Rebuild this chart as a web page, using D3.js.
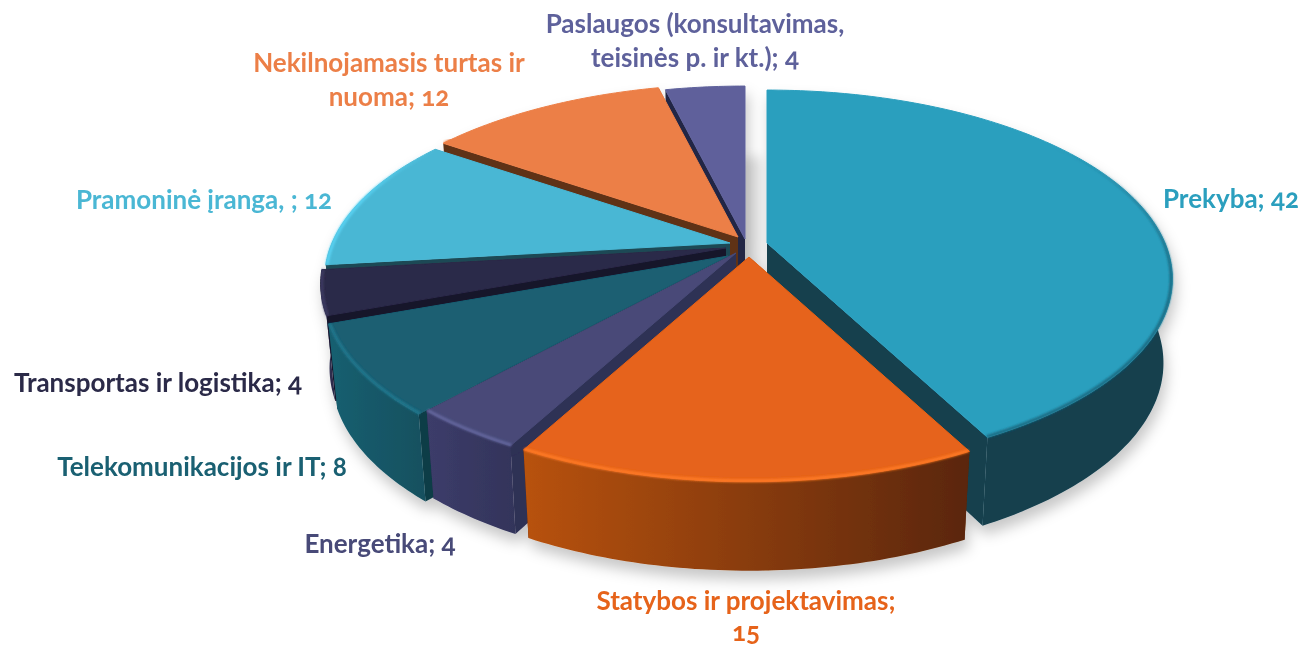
<!DOCTYPE html>
<html lang="lt">
<head>
  <meta charset="UTF-8" />
  <title>Sektoriai</title>
  <style>
    body { margin: 0; background: #fff; overflow: hidden; }
    svg { display: block; }
    .label {
      font-family: Lato, "Open Sans", sans-serif;
      font-weight: 700;
      font-size: 26px;
      font-variant-numeric: oldstyle-nums;
      text-anchor: middle;
    }
  </style>
  <script src="https://cdn.jsdelivr.net/npm/d3@7"></script>
</head>
<body>
  <svg id="chart" width="1301" height="648"></svg>

  <script>
    // shares in %, the printed labels are these rounded
    const categories = ['Prekyba', 'Statybos ir projektavimas', 'Energetika', 'Telekomunikacijos ir IT',
      'Transportas ir logistika', 'Pramoninė įranga', 'Nekilnojamasis turtas ir nuoma', 'Paslaugos'];
    const values = [42.3, 15.4, 3.8, 7.7, 3.8, 11.5, 11.5, 3.8];
    const labels = ['Prekyba; 42', 'Statybos ir projektavimas;\n15', 'Energetika; 4', 'Telekomunikacijos ir IT; 8',
      'Transportas ir logistika; 4', 'Pramoninė įranga, ; 12', 'Nekilnojamasis turtas ir\nnuoma; 12',
      'Paslaugos (konsultavimas,\nteisinės p. ir kt.); 4'];

    // styling per slice
    const topColors  = ['#2b9fbe', '#e6631a', '#484a78', '#1a5e72', '#2b2a48', '#4ab7d4', '#ec7f47', '#5e619b'];
    const textColors = ['#2b9fbe', '#e6631a', '#484a78', '#1a6072', '#2b2a48', '#4ab7d4', '#ec7f47', '#5e619b'];
    const rimColors  = ['#1b6a82', '#ff7a26', '#64669e', '#22788e', '#3c3b62', '#58d2f2', '#ec7f47', '#5e619b'];
    const faceColors = ['#133f4e', '#5a2608', '#2f3055', '#0e3c47', '#14122a', '#1f4a54', '#5f3118', '#242645'];
    const wallFrom   = ['#133f4e', '#b8520f', '#3c3c6a', '#185f70', '#33335a', '#1f4a54', '#5f3118', '#242645'];
    const wallTo     = ['#133f4e', '#5a2608', '#33345a', '#14505f', '#2b2a48', '#1f4a54', '#5f3118', '#242645'];
    // how far each slice is pulled out of the centre, px
    const pullX = [22, 4, -9, -17, -19, -15, -7, 0];
    const pullY = [3, 17, 13, 16, 8, 3, -3, -1];
    const labelX = [1231, 746, 380, 202, 158, 204, 389, 695];
    const labelY = [208, 610, 553, 476, 392, 209, 72, 33];
    const lineGaps = [0, 31, 0, 0, 0, 0, 33.5, 33.5];
    const drawOrder = [7, 6, 5, 4, 3, 2, 0, 1];

    const cx = 745, cy = 240;
    const radiusX = 398, radiusY = 182;
    const persp = 0.19;
    const wallH = 83;

    const svg = d3.select('#chart');
    const defs = svg.append('defs');

    const shadow = defs.append('filter').attr('id', 'shadow')
      .attr('x', '-10%').attr('y', '-10%').attr('width', '120%').attr('height', '125%');
    shadow.append('feDropShadow')
      .attr('dx', 3).attr('dy', 9).attr('stdDeviation', 7)
      .attr('flood-color', '#000').attr('flood-opacity', 0.22);

    const soft = defs.append('filter').attr('id', 'soft')
      .attr('x', '-10%').attr('y', '-10%').attr('width', '120%').attr('height', '120%');
    soft.append('feGaussianBlur').attr('stdDeviation', 1.2);

    const wide = defs.append('filter').attr('id', 'wide')
      .attr('x', '-40%').attr('y', '-40%').attr('width', '180%').attr('height', '180%');
    wide.append('feGaussianBlur').attr('stdDeviation', 6);

    function project(x, y, z) {
      const s = 1 / (1 - persp * y);
      const shrink = 1 - 0.022 * z;
      return [cx + x * radiusX * s * shrink, cy + y * radiusY * s + z * (wallH + 6 * y)];
    }

    const line = d3.line();
    const pieData = d3.pie().sort(null)(values);
    const rimPoint = (a, z, r = 1) => project(Math.sin(a) * r, -Math.cos(a) * r, z);
    const arcAngles = d => {
      const n = Math.max(8, Math.ceil((d.endAngle - d.startAngle) * 60));
      return d3.range(n + 1).map(k => d.startAngle + (d.endAngle - d.startAngle) * k / n);
    };

    // shadow that falls into the gap beside the last slice
    const last = pieData[pieData.length - 1];
    svg.append('path')
      .attr('d', line([project(0, 0, 0)].concat(arcAngles(last).map(a => rimPoint(a, 0)))) + 'Z')
      .attr('transform', 'translate(16,70)')
      .attr('fill', '#000')
      .attr('opacity', 0.13)
      .attr('filter', 'url(#wide)');

    const pieGroup = svg.append('g').attr('filter', 'url(#shadow)');

    drawOrder.forEach(i => {
      const d = pieData[i];
      const angles = arcAngles(d);
      const g = pieGroup.append('g')
        .attr('class', 'slice')
        .attr('transform', `translate(${pullX[i]},${pullY[i]})`);

      // the two cut faces
      [d.startAngle, d.endAngle].forEach(a => {
        const face = [project(0, 0, 0), rimPoint(a, 0), rimPoint(a, 1), project(0, 0, 1)];
        g.append('path')
          .attr('d', line(face) + 'Z')
          .attr('fill', faceColors[i]);
      });

      // outer wall, only the part that looks at the viewer
      const front = angles.filter(a => -Math.cos(a) >= -0.02);
      if (front.length > 1) {
        const grad = defs.append('linearGradient').attr('id', 'wall' + i);
        grad.append('stop').attr('offset', '0%').attr('stop-color', wallFrom[i]);
        grad.append('stop').attr('offset', '100%').attr('stop-color', wallTo[i]);
        const wall = front.map(a => rimPoint(a, 0)).concat(front.slice().reverse().map(a => rimPoint(a, 1)));
        g.append('path')
          .attr('d', line(wall) + 'Z')
          .attr('fill', `url(#wall${i})`);
      }

      // top surface
      const top = [project(0, 0, 0)].concat(angles.map(a => rimPoint(a, 0)));
      g.append('path')
        .attr('d', line(top) + 'Z')
        .attr('fill', topColors[i])
        .attr('stroke', topColors[i])
        .attr('stroke-width', 1)
        .attr('stroke-linejoin', 'round');

      // soft edge along the rim, fades out towards the back
      const lit = angles.filter(a => -Math.cos(a) >= -0.6);
      if (lit.length > 1) {
        const fade = defs.append('linearGradient').attr('id', 'rim' + i)
          .attr('x1', 0).attr('y1', 0).attr('x2', 0).attr('y2', 1);
        fade.append('stop').attr('offset', '0%').attr('stop-color', rimColors[i]).attr('stop-opacity', 0);
        fade.append('stop').attr('offset', '45%').attr('stop-color', rimColors[i]).attr('stop-opacity', 1);
        g.append('path')
          .attr('d', line(lit.map(a => rimPoint(a, 0, 0.997))))
          .attr('fill', 'none')
          .attr('stroke', i === 0 || i === 5 ? `url(#rim${i})` : rimColors[i])
          .attr('stroke-width', 3)
          .attr('filter', 'url(#soft)');
      }
    });

    // labels
    labels.forEach((text, i) => {
      const t = svg.append('text')
        .attr('class', 'label')
        .attr('fill', textColors[i])
        .attr('x', labelX[i])
        .attr('y', labelY[i]);
      text.split('\n').forEach((part, k) => {
        t.append('tspan')
          .attr('x', labelX[i])
          .attr('dy', k ? lineGaps[i] : 0)
          .text(part);
      });
    });
  </script>
</body>
</html>
